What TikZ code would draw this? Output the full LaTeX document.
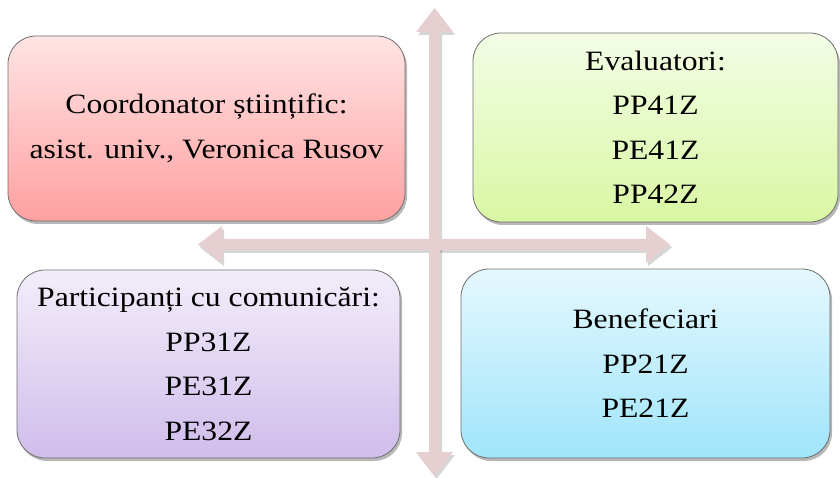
\documentclass[tikz,border=0pt]{standalone}
\usepackage{fontspec}
\setmainfont{Liberation Serif}[FakeStretch=1.13]
\usetikzlibrary{shadows}
\definecolor{arrowc}{RGB}{230,207,209}
\definecolor{edgec}{RGB}{110,110,110}
\definecolor{redtop}{RGB}{255,228,228}
\definecolor{redbot}{RGB}{255,160,160}
\definecolor{greentop}{RGB}{243,253,230}
\definecolor{greenbot}{RGB}{217,247,163}
\definecolor{purptop}{RGB}{243,237,250}
\definecolor{purpbot}{RGB}{207,189,235}
\definecolor{bluetop}{RGB}{229,248,255}
\definecolor{bluebot}{RGB}{160,229,250}
\begin{document}
\begin{tikzpicture}[x=1pt,y=-1pt,
  box/.style={draw=edgec, line width=0.8pt, rounded corners=28pt, align=center,
    inner sep=0pt, font=\fontsize{28}{44.5}\selectfont,
    drop shadow={shadow xshift=2pt, shadow yshift=-3pt, fill=black, opacity=0.28}},
  arrowshadow/.style={fill=black, opacity=0.16},
  arrowfill/.style={fill=arrowc}
]
\useasboundingbox (0,0) rectangle (840,478);
\coordinate (cross) at (434.5,244.5);
% arrow shadows
\begin{scope}[shift={(2pt,-3pt)}]
\fill[arrowshadow] (429,32) -- (416,32) -- (434.5,8) -- (453,32) -- (440,32) -- (440,452) -- (453,452) -- (434.5,476) -- (416,452) -- (429,452) -- cycle;
\fill[arrowshadow] (222,239) -- (222,226) -- (198,244.5) -- (222,263) -- (222,250) -- (646,250) -- (646,263) -- (670,244.5) -- (646,226) -- (646,239) -- cycle;
\end{scope}
% arrows
\fill[arrowfill] (429,32) -- (416,32) -- (434.5,8) -- (453,32) -- (440,32) -- (440,452) -- (453,452) -- (434.5,476) -- (416,452) -- (429,452) -- cycle;
\fill[arrowfill] (222,239) -- (222,226) -- (198,244.5) -- (222,263) -- (222,250) -- (646,250) -- (646,263) -- (670,244.5) -- (646,226) -- (646,239) -- cycle;
% boxes
\node[box, top color=redtop, bottom color=redbot, minimum width=397pt, minimum height=185pt] (coord) at (206.5,128.5)
  {Coordonator științific:\\asist. univ., Veronica Rusov};
\node[box, top color=greentop, bottom color=greenbot, minimum width=365pt, minimum height=189pt] (eval) at (655.5,127.5)
  {Evaluatori:\\PP41Z\\PE41Z\\PP42Z};
\node[box, top color=purptop, bottom color=purpbot, minimum width=383pt, minimum height=188pt] (part) at (208.5,364)
  {Participanți cu comunicări:\\PP31Z\\PE31Z\\PE32Z};
\node[box, top color=bluetop, bottom color=bluebot, minimum width=369pt, minimum height=189pt] (bene) at (645.5,363.5)
  {Benefeciari\\PP21Z\\PE21Z};
\end{tikzpicture}
\end{document}
